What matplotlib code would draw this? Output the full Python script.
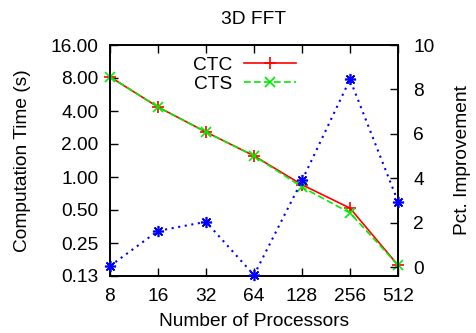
import matplotlib
matplotlib.use("Agg")
import matplotlib.pyplot as plt

plt.rcParams['font.family'] = ['Liberation Sans', 'DejaVu Sans']
plt.rcParams['font.size'] = 13.8

# data
procs = [8, 16, 32, 64, 128, 256, 512]
proc_labels = ["8", "16", "32", "64", "128", "256", "512"]
ctc_time = [8.2, 4.35, 2.57, 1.56, 0.85, 0.52, 0.157]
cts_time = [8.2, 4.35, 2.57, 1.56, 0.81, 0.47, 0.157]
pct_improvement = [0.05, 1.63, 2.04, -0.36, 3.9, 8.45, 2.95]

time_ticks = [0.125, 0.25, 0.5, 1, 2, 4, 8, 16]
time_labels = ["0.13", "0.25", "0.50", "1.00", "2.00", "4.00", "8.00", "16.00"]
pct_ticks = [0, 2, 4, 6, 8, 10]

W, H = 477, 333
fig = plt.figure(figsize=(W / 100, H / 100), dpi=100)
ax = fig.add_axes([110 / W, (H - 276) / H, 288 / W, 231 / H])

ax.plot(procs, ctc_time, color="#ff0000", lw=1.2, marker="+", ms=9, mew=1.2,
        label="CTC", clip_on=False, zorder=3)
ax.plot(procs, cts_time, color="#00ee00", lw=1.2, ls=(0, (4, 2)), marker="x",
        ms=7, mew=1.2, label="CTS", clip_on=False, zorder=3)

ax.set_xscale("log", base=2)
ax.set_yscale("log", base=2)
ax.set_xlim(8, 512)
ax.set_ylim(0.125, 16)
ax.set_xticks(procs)
ax.set_xticklabels(proc_labels)
ax.set_yticks(time_ticks)
ax.set_yticklabels(time_labels)
ax.minorticks_off()
ax.tick_params(direction="in", length=6, width=1, top=True, right=False, pad=8.5)
for s in ax.spines.values():
    s.set_linewidth(1.2)

ax.set_xlabel("Number of Processors", labelpad=6)
ax.set_ylabel("Computation Time (s)", labelpad=14)
ax.set_title("3D FFT", fontsize=13.8, pad=15)

ax2 = ax.twinx()
ax2.plot(procs, pct_improvement, color="#0000ff", lw=1.5, ls=(0, (1, 2.2)),
         marker=(8, 2, 0), ms=8, mew=1.2, clip_on=False, zorder=4)
ax2.set_ylim(-0.4, 10)
ax2.set_yticks(pct_ticks)
ax2.minorticks_off()
ax2.tick_params(direction="in", length=6, width=1, pad=11)
ax2.set_ylabel("Pct. Improvement", labelpad=14)
for s in ax2.spines.values():
    s.set_linewidth(1.2)

ax.legend(loc="upper right", bbox_to_anchor=(309 / W, 1 - 43 / H),
          bbox_transform=fig.transFigure, frameon=False, markerfirst=False,
          handlelength=2.7, handletextpad=0.6, labelspacing=0.1, numpoints=1,
          borderpad=0.2)

fig.savefig("out.png", dpi=100)
